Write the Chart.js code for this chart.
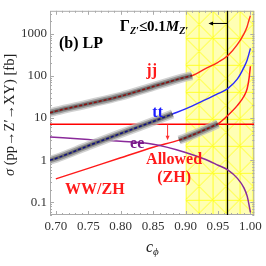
<!DOCTYPE html>
<html>
<head>
<meta charset="utf-8">
<script src="https://cdn.jsdelivr.net/npm/chart.js@4.4.0/dist/chart.umd.min.js"></script>
<style>
  html, body { margin: 0; padding: 0; background: #fff; }
  #wrap { width: 266px; height: 266px; }
</style>
</head>
<body>
<div id="wrap"><canvas id="c" width="266" height="266"></canvas></div>
<script>
// --- data ---
const cJJ = [0.691, 0.70, 0.75, 0.80, 0.85, 0.89, 0.91, 0.93, 0.95, 0.965, 0.98, 0.99, 0.995, 0.9975, 1.0];
const sJJ = [13.4, 14.6, 21.8, 33, 56, 85, 102, 147, 211, 300, 560, 1000, 1500, 2050, 2700];

const cTT = [0.691, 0.70, 0.75, 0.80, 0.85, 0.88, 0.90, 0.93, 0.95, 0.965, 0.98, 0.99, 0.995, 1.0];
const sTT = [1.0, 1.1, 2.2, 4.3, 8.3, 12.5, 16.5, 27, 38, 50, 85, 160, 240, 450];

const cEE = [0.691, 0.75, 0.80, 0.85, 0.90, 0.93, 0.95, 0.965, 0.98, 0.99, 0.995, 0.998, 1.0];
const sEE = [3.56, 3.12, 2.81, 2.39, 1.53, 1.05, 0.76, 0.59, 0.37, 0.22, 0.14, 0.085, 0.058];

const cWW = [0.70, 0.75, 0.80, 0.85, 0.89, 0.90, 0.93, 0.95, 0.965, 0.98, 0.99, 0.995, 0.998, 1.0];
const sWW = [0.36, 0.64, 1.14, 2.02, 3.0, 3.4, 5.3, 7.3, 11.5, 20, 33, 50, 90, 170];

// gray highlighted pieces of the curves (c range)
const bandJJ = [0.691, 0.91];
const bandTT = [0.691, 0.88];
const bandWW = [0.89, 0.95];

const limitLine = 7.1;        // horizontal red line [fb]
const widthCut = 0.964;       // Gamma_Z' <= 0.1 M_Z' boundary
const yellowFrom = 0.90;      // shaded region start

const xTicks = [0.70, 0.75, 0.80, 0.85, 0.90, 0.95, 1.00];
const yTicks = [0.1, 1, 10, 100, 1000];
const yTickLabels = ['0.1', '1', '10', '100', '1000'];

const X_MIN = 0.691, X_MAX = 1.006, Y_MIN = 0.05, Y_MAX = 3520;

const SERIF = '"Liberation Serif", "DejaVu Serif", serif';

function pts(cs, vs) { return cs.map((c, i) => ({ x: c, y: vs[i] })); }
function piece(cs, vs, band) { return pts(cs, vs).filter(p => p.x >= band[0] - 1e-9 && p.x <= band[1] + 1e-9); }

function line(data, color, width, order, dash) {
  return {
    data: data, borderColor: color, borderWidth: width, pointRadius: 0,
    cubicInterpolationMode: 'monotone', fill: false, order: order,
    borderDash: dash || [], borderCapStyle: 'butt'
  };
}

const datasets = [
  line(pts(cJJ, sJJ), '#ff2a1a', 1.4, 10),
  line(pts(cTT, sTT), '#2a2aff', 1.4, 10),
  line(pts(cEE, sEE), '#8a2a9a', 1.5, 10),
  line(pts(cWW, sWW), '#ff1a1a', 1.5, 10),
  line([{ x: X_MIN, y: limitLine }, { x: X_MAX, y: limitLine }], '#ff0000', 1.5, 9)
];
[[cJJ, sJJ, bandJJ, '#8b1010'], [cTT, sTT, bandTT, '#101080'], [cWW, sWW, bandWW, '#8b1010']].forEach(([cs, vs, b, col]) => {
  const d = piece(cs, vs, b);
  datasets.push(line(d, 'rgba(190,190,190,0.7)', 9, 6));
  datasets.push(line(d, 'rgba(140,140,140,0.8)', 6, 5));
  datasets.push(line(d, 'rgba(90,90,90,0.8)', 3, 4));
  datasets.push(line(d, col, 1.5, 3, [3, 2]));
});

function hatch() {
  const p = document.createElement('canvas');
  p.width = 27; p.height = 27;
  const g = p.getContext('2d');
  g.fillStyle = '#ffffb4';
  g.fillRect(0, 0, 27, 27);
  g.strokeStyle = '#ffff2a';
  g.lineWidth = 1;
  g.beginPath();
  g.moveTo(0.5, 0); g.lineTo(0.5, 27);
  g.moveTo(13.5, 0); g.lineTo(13.5, 27);
  g.moveTo(0, 0.5); g.lineTo(27, 0.5);
  g.moveTo(0, 0); g.lineTo(27, 27);
  g.moveTo(27, 0); g.lineTo(0, 27);
  g.stroke();
  return p;
}

const background = {
  id: 'background',
  beforeDatasetsDraw(chart) {
    const { ctx, chartArea: a, scales: { x, y } } = chart;
    ctx.save();
    const x0 = x.getPixelForValue(yellowFrom);
    const pat = ctx.createPattern(hatch(), 'repeat');
    ctx.translate(x0, a.top);
    ctx.fillStyle = pat;
    ctx.fillRect(0, 0, a.right - x0, a.bottom - a.top);
    ctx.restore();

    // frame and ticks
    ctx.save();
    ctx.strokeStyle = '#aaaaaa';
    ctx.lineWidth = 1;
    ctx.strokeRect(a.left + 0.5, a.top + 0.5, a.right - a.left - 1, a.bottom - a.top - 1);
    ctx.beginPath();
    for (let e = -2; e <= 3; e++) {
      for (let m = 1; m <= 9; m++) {
        const v = m * Math.pow(10, e);
        if (v < Y_MIN || v > Y_MAX) continue;
        const py = Math.round(y.getPixelForValue(v)) + 0.5;
        const len = m === 1 ? 4 : 2;
        ctx.moveTo(a.left, py); ctx.lineTo(a.left + len, py);
        ctx.moveTo(a.right, py); ctx.lineTo(a.right - len, py);
      }
    }
    for (let k = 70; k <= 100; k++) {
      const px = Math.round(x.getPixelForValue(k / 100)) + 0.5;
      const len = k % 5 === 0 ? 4 : 2;
      ctx.moveTo(px, a.bottom); ctx.lineTo(px, a.bottom - len);
      ctx.moveTo(px, a.top); ctx.lineTo(px, a.top + len);
    }
    ctx.stroke();
    ctx.restore();

    // width boundary
    ctx.save();
    const xc = Math.round(x.getPixelForValue(widthCut)) + 0.5;
    ctx.strokeStyle = '#000';
    ctx.lineWidth = 1.3;
    ctx.beginPath();
    ctx.moveTo(xc, a.top); ctx.lineTo(xc, a.bottom);
    ctx.stroke();
    ctx.restore();
  }
};

function runs(ctx, parts, x, y, align) {
  let w = 0;
  parts.forEach(p => { ctx.font = p.f; w += ctx.measureText(p.t).width; });
  let cx = align === 'center' ? x - w / 2 : x;
  parts.forEach(p => {
    ctx.font = p.f;
    ctx.fillText(p.t, cx, y + (p.dy || 0));
    cx += ctx.measureText(p.t).width;
  });
}

function arrow(ctx, x1, y1, x2, y2, color, head) {
  const ang = Math.atan2(y2 - y1, x2 - x1);
  ctx.strokeStyle = color; ctx.fillStyle = color; ctx.lineWidth = 1;
  ctx.beginPath(); ctx.moveTo(x1, y1);
  ctx.lineTo(x2 - Math.cos(ang) * head * 0.6, y2 - Math.sin(ang) * head * 0.6); ctx.stroke();
  ctx.beginPath();
  ctx.moveTo(x2, y2);
  ctx.lineTo(x2 - head * Math.cos(ang - 0.4), y2 - head * Math.sin(ang - 0.4));
  ctx.lineTo(x2 - head * Math.cos(ang + 0.4), y2 - head * Math.sin(ang + 0.4));
  ctx.closePath(); ctx.fill();
}

const labels = {
  id: 'labels',
  afterDatasetsDraw(chart) {
    const { ctx, chartArea: a, scales: { x, y } } = chart;
    const X = v => x.getPixelForValue(v), Y = v => y.getPixelForValue(v);
    ctx.save();
    ctx.textBaseline = 'middle';
    ctx.textAlign = 'left';

    ctx.fillStyle = '#000';
    runs(ctx, [{ t: '(b) LP', f: 'bold 16px ' + SERIF }], X(0.7048), Y(583), 'left');

    ctx.textBaseline = 'alphabetic';
    runs(ctx, [
      { t: 'Γ', f: 'bold 16px ' + SERIF },
      { t: 'Z′', f: 'italic bold 10px ' + SERIF, dy: 3 },
      { t: '≤0.1', f: 'bold 15px ' + SERIF },
      { t: 'M', f: 'italic bold 15px ' + SERIF },
      { t: 'Z′', f: 'italic bold 10px ' + SERIF, dy: 3 }
    ], X(0.7986), Y(1140), 'left');
    arrow(ctx, X(widthCut), Y(1762), X(0.9353), Y(1762), '#000', 5);

    ctx.textBaseline = 'middle';
    ctx.fillStyle = '#ff1a1a';
    runs(ctx, [{ t: 'jj', f: 'bold 16px ' + SERIF }], X(0.8477), Y(134), 'center');
    ctx.fillStyle = '#1a1aff';
    runs(ctx, [{ t: 'tt', f: 'bold 16px ' + SERIF }], X(0.857), Y(13.6), 'center');
    ctx.fillStyle = '#7a1a8a';
    runs(ctx, [{ t: 'ee', f: 'bold 16px ' + SERIF }], X(0.8254), Y(2.39), 'center');
    ctx.fillStyle = '#ff1a1a';
    runs(ctx, [{ t: 'Allowed', f: 'bold 16px ' + SERIF }], X(0.8823), Y(1.0), 'center');
    runs(ctx, [{ t: '(ZH)', f: 'bold 16px ' + SERIF }], X(0.8823), Y(0.376), 'center');
    runs(ctx, [{ t: 'WW/ZH', f: 'bold 16px ' + SERIF }], X(0.7601), Y(0.196), 'center');
    arrow(ctx, X(0.8723), Y(limitLine), X(0.8723), Y(2.97), '#ff3030', 5);

    // axis titles
    ctx.fillStyle = '#222';
    ctx.save();
    ctx.translate(10, (a.top + a.bottom) / 2 + 2);
    ctx.rotate(-Math.PI / 2);
    runs(ctx, [
      { t: 'σ', f: 'italic 14.5px ' + SERIF },
      { t: ' (pp→Z′→XY) [fb]', f: '14.5px ' + SERIF }
    ], 0, 0, 'center');
    ctx.restore();
    ctx.textBaseline = 'alphabetic';
    runs(ctx, [
      { t: 'c', f: 'italic 16px ' + SERIF },
      { t: 'ϕ', f: 'italic 11px ' + SERIF, dy: 3 }
    ], 146, 252, 'left');
    ctx.restore();
  }
};

new Chart(document.getElementById('c'), {
  type: 'line',
  data: { datasets: datasets },
  options: {
    responsive: false,
    animation: false,
    layout: { padding: { top: 10, right: 11, left: 0, bottom: 0 } },
    plugins: { legend: { display: false }, tooltip: { enabled: false } },
    scales: {
      x: {
        type: 'linear', min: X_MIN, max: X_MAX,
        grid: { display: false, drawTicks: false }, border: { display: false },
        afterBuildTicks: s => { s.ticks = xTicks.map(v => ({ value: v })); },
        afterFit: s => { s.height = 51; },
        ticks: { padding: 4, color: '#333', font: { family: SERIF, size: 13 }, callback: v => v.toFixed(2), maxRotation: 0 }
      },
      y: {
        type: 'logarithmic', min: Y_MIN, max: Y_MAX,
        grid: { display: false, drawTicks: false }, border: { display: false },
        afterBuildTicks: s => { s.ticks = yTicks.map(v => ({ value: v })); },
        afterFit: s => { s.width = 50; },
        ticks: { padding: 3, color: '#333', font: { family: SERIF, size: 13 }, callback: v => yTickLabels[yTicks.indexOf(v)] }
      }
    }
  },
  plugins: [background, labels]
});
</script>
</body>
</html>
